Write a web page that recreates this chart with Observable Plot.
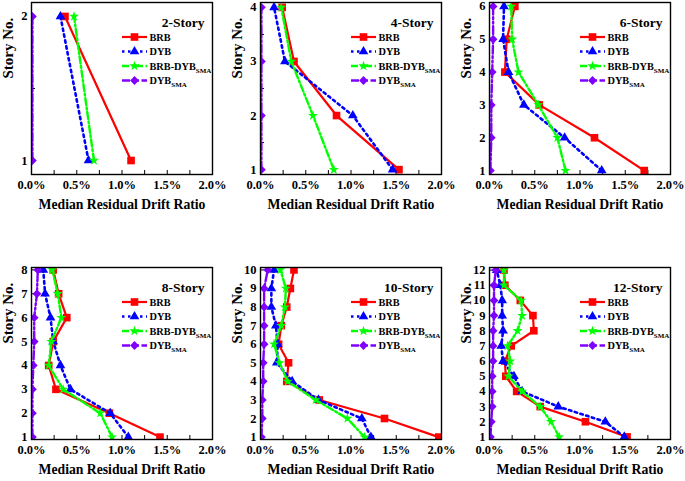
<!DOCTYPE html>
<html><head><meta charset="utf-8">
<script src="https://cdn.jsdelivr.net/npm/d3@7"></script>
<script src="https://cdn.jsdelivr.net/npm/@observablehq/plot@0.6"></script>
<style>
body{margin:0;background:#fff;}
#wrap{position:relative;width:685px;height:481px;overflow:hidden;background:#fff;font-family:"Liberation Serif","DejaVu Serif",serif;}
#wrap svg{position:absolute;}
</style></head><body><div id="wrap"></div>
<script>
// ---------- data ----------
const panelTitles = ["2-Story","4-Story","6-Story","8-Story","10-Story","12-Story"];
const storyCounts = [2,4,6,8,10,12];
const seriesNames = ["BRB","DYB","BRB-DYB","DYB"];
const seriesSubs  = ["","","SMA","SMA"];
const seriesColors = ["#ff0000","#0000ff","#00ff00","#8000ff"];
const xTickLabels = [0,0.5,1.0,1.5,2.0];
const xMinorTicks = [0.25,0.5,0.75,1.0,1.25,1.5,1.75];
// residual drift ratio (%) listed from story 1 upward
const brbValues = [
  [1.10,0.37],
  [1.53,0.84,0.37,0.24],
  [1.71,1.16,0.55,0.17,0.19,0.28],
  [1.42,0.86,0.27,0.19,0.24,0.39,0.30,0.24],
  [1.97,1.37,0.65,0.29,0.31,0.20,0.23,0.29,0.33,0.37],
  [1.52,1.06,0.56,0.30,0.18,0.17,0.24,0.49,0.48,0.34,0.17,0.16]
];
const dybValues = [
  [0.63,0.32],
  [1.46,1.02,0.27,0.15],
  [1.24,0.83,0.38,0.21,0.15,0.16],
  [1.07,0.87,0.43,0.32,0.24,0.21,0.15,0.13],
  [1.22,1.12,0.64,0.35,0.18,0.19,0.17,0.12,0.12,0.15],
  [1.49,1.28,0.76,0.36,0.27,0.15,0.13,0.15,0.14,0.14,0.12,0.08]
];
const brbDybSmaValues = [
  [0.69,0.47],
  [0.81,0.58,0.34,0.23],
  [0.84,0.75,0.54,0.32,0.25,0.24],
  [0.89,0.76,0.35,0.19,0.22,0.33,0.29,0.23],
  [1.15,0.96,0.61,0.30,0.21,0.15,0.23,0.27,0.28,0.22],
  [0.77,0.68,0.56,0.36,0.21,0.23,0.20,0.31,0.36,0.35,0.16,0.16]
];
const dybSmaValues = [
  [0.01,0.01],
  [0.01,0.01,0.01,0.01],
  [0.01,0.02,0.02,0.03,0.04,0.04],
  [0.01,0.01,0.01,0.02,0.03,0.03,0.06,0.07],
  [0.01,0.02,0.02,0.03,0.03,0.04,0.04,0.04,0.04,0.08],
  [0.01,0.02,0.03,0.03,0.03,0.04,0.04,0.04,0.05,0.05,0.05,0.07]
];
const yPads = [0.097,0.09,0.12,0.1,0.13,0.17];

// ---------- styles ----------
const FONT = "Liberation Serif, DejaVu Serif, serif";
const styles = [
  {dash: null,        width: 2.2, symbol: "square",   r: 4.3, rotate: 0},
  {dash: "2.5,3.5",   width: 2.6, symbol: "triangle", r: 3.6, rotate: 0},
  {dash: "7,2.5,2,2.5", width: 2.4, symbol: "star",   r: 3.2, rotate: 0},
  {dash: "8,2.5,2,2.5,2,2.5", width: 2.4, symbol: "square", r: 3.5, rotate: 45}
];
const allSeries = [brbValues, dybValues, brbDybSmaValues, dybSmaValues];

const W = 229, H = 215, ML = 31, MR = 17, MT = 2, MB = H - 174;
const FW = W - ML - MR, FH = H - MT - MB;
const wrap = document.getElementById("wrap");

panelTitles.forEach((title, p) => {
  const n = storyCounts[p];
  const pad = yPads[p];
  const yTicks = d3.range(1, n + 1);
  const yMinor = n <= 4 ? d3.range(1, n + 0.01, 0.5) : yTicks;
  const marks = [
    Plot.tickX(xMinorTicks, {x: d => d, insetTop: FH - 4, stroke: "#000", strokeWidth: 1}),
    Plot.tickY(yMinor, {y: d => d, insetRight: FW - 4, stroke: "#000", strokeWidth: 1}),
    Plot.axisX(xTickLabels, {tickSize: 0, tickPadding: 6, tickFormat: d => d.toFixed(1) + "%", label: null, fontSize: 12.5}),
    Plot.axisY(yTicks, {tickSize: 0, tickPadding: 4, tickFormat: d => String(d), label: null, fontSize: 12.5})
  ];
  allSeries.forEach((vals, s) => {
    const rows = vals[p].map((v, i) => ({story: i + 1, value: v}));
    const st = styles[s];
    marks.push(Plot.line(rows, {x: "value", y: "story", stroke: seriesColors[s], strokeWidth: st.width, strokeDasharray: st.dash, clip: true}));
    marks.push(Plot.dot(rows, {x: "value", y: "story", symbol: st.symbol, r: st.r, fill: seriesColors[s], stroke: "none", rotate: st.rotate, clip: true}));
  });
  marks.push(
    Plot.frame({stroke: "#000", strokeWidth: 1.4}),
    Plot.text([title], {frameAnchor: "top-right", dx: -8, dy: 15, textAnchor: "end", fontSize: 13.5, fontWeight: "bold"}),
    Plot.text(["Median Residual Drift Ratio"], {frameAnchor: "bottom", dy: 34, fontSize: 13.7, fontWeight: "bold"}),
    Plot.text(["Story No."], {frameAnchor: "left", dx: -23, dy: -10, rotate: -90, fontSize: 15, fontWeight: "bold"})
  );
  const svg = Plot.plot({
    width: W, height: H,
    marginLeft: ML, marginRight: MR, marginTop: MT, marginBottom: MB,
    x: {domain: [0, 2]},
    y: {domain: [1 - pad, n + pad]},
    style: {fontFamily: FONT, fontWeight: "bold", fontSize: "12.5px", background: "transparent", color: "#000", overflow: "visible"},
    marks
  });
  const col = p % 3, row = Math.floor(p / 3);
  svg.style.left = (col * 229) + "px";
  svg.style.top = (row * 265) + "px";
  wrap.appendChild(svg);

  // legend
  const fr = ML + FW;
  const rowY = [35, 49.5, 64, 78.5];
  const g = d3.select(svg).append("g").attr("font-family", FONT).attr("font-weight", "bold");
  seriesNames.forEach((name, s) => {
    const st = styles[s];
    const y = MT + rowY[s];
    g.append("line").attr("x1", fr - 90).attr("x2", fr - 65).attr("y1", y).attr("y2", y)
      .attr("stroke", seriesColors[s]).attr("stroke-width", st.width)
      .attr("stroke-dasharray", st.dash);
    const sym = {square: d3.symbolSquare, triangle: d3.symbolTriangle, star: d3.symbolStar}[st.symbol];
    g.append("path").attr("d", d3.symbol(sym, st.r * st.r * Math.PI)())
      .attr("transform", `translate(${fr - 77.5},${y}) rotate(${st.rotate})`)
      .attr("fill", seriesColors[s]);
    const t = g.append("text").attr("x", fr - 62.5).attr("y", y).attr("dy", "0.35em")
      .attr("font-size", 10.3).attr("text-anchor", "start").attr("fill", "#000");
    t.append("tspan").text(name);
    if (seriesSubs[s]) t.append("tspan").attr("font-size", 7).attr("dy", 3).text(seriesSubs[s]);
  });
});
</script></body></html>
